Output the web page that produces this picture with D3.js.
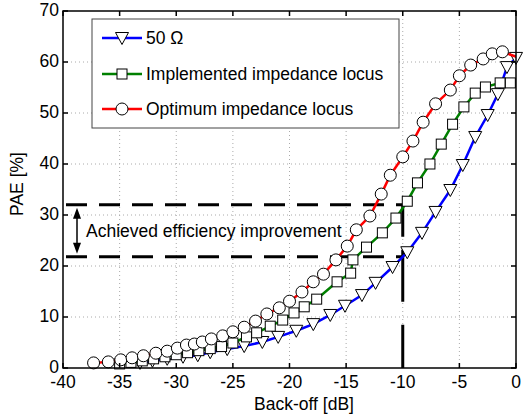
<!DOCTYPE html>
<html>
<head>
<meta charset="utf-8">
<script src="https://cdn.jsdelivr.net/npm/d3@7"></script>
<style>
  body { margin: 0; background: #fff; }
  text { font-family: "Liberation Sans", Arial, sans-serif; fill: #000; }
</style>
</head>
<body>
<div id="chart"></div>
<script>
// back-off [dB] and PAE [%]
var refX  = [-33.2,-32.1,-30.8,-29.4,-28.1,-27.0,-25.5,-24.0,-22.4,-21.0,-19.4,-17.9,-16.4,-15.1,-13.6,-12.4,-10.9,-9.6,-8.3,-7.1,-5.8,-4.7,-3.6,-2.5,-1.6,-0.8,0.0];
var refY  = [1.0,1.4,1.8,2.2,2.5,3.1,3.7,4.3,5.1,6.1,7.3,8.6,10.4,12.2,14.3,16.7,19.8,22.7,26.5,30.6,34.9,39.8,45.3,49.6,53.7,59.0,60.8];

var implX = [-35.0,-34.0,-33.0,-32.0,-31.0,-30.0,-29.0,-28.0,-27.0,-26.0,-25.0,-23.8,-22.9,-21.7,-20.6,-19.6,-18.7,-17.6,-15.8,-14.6,-14.4,-13.2,-11.8,-10.6,-9.6,-8.7,-7.6,-6.6,-5.6,-4.6,-3.6,-2.7,-1.4,-0.5];
var implY = [0.8,1.1,1.4,1.8,2.2,2.6,3.0,3.4,3.8,4.2,4.9,6.1,6.9,8.2,9.4,10.8,12.0,13.5,16.9,18.6,21.2,23.7,26.5,29.4,32.7,36.3,40.0,43.9,47.8,51.2,53.9,55.1,55.9,55.9];

var optX  = [-37.3,-36.0,-34.9,-33.9,-32.9,-31.8,-30.8,-29.9,-29.1,-28.4,-27.7,-26.9,-25.9,-25.0,-24.0,-23.0,-22.0,-20.9,-20.0,-18.9,-17.9,-17.0,-15.9,-14.9,-14.1,-12.9,-11.9,-11.1,-10.0,-9.1,-8.2,-7.1,-5.8,-5.0,-4.0,-2.9,-2.1,-1.2,0.3];
var optY  = [1.0,1.2,1.6,2.0,2.4,2.9,3.3,3.9,4.5,4.7,5.1,5.7,6.3,7.1,8.0,9.2,10.6,11.8,13.1,14.9,16.9,18.4,21.2,23.9,27.1,29.8,34.1,37.8,41.4,44.5,48.2,51.8,54.5,57.3,59.4,60.6,61.6,62.0,60.8];

var xTicks = [-40,-35,-30,-25,-20,-15,-10,-5,0];
var yTicks = [0,10,20,30,40,50,60,70];
var legendNames = ["50 \u03A9", "Implemented impedance locus", "Optimum impedance locus"];

// annotation: efficiency at -10 dB
var markBackoff = -10;
var paeLow = 21.8, paeHigh = 32.0;
var noteText = "Achieved efficiency improvement";

var width = 523, height = 417;
var m = {left: 63, top: 11, right: 7, bottom: 49};
var fs = "17.5px";

var svg = d3.select("#chart").append("svg")
    .attr("width", width)
    .attr("height", height);

var x = d3.scaleLinear().domain([-40, 0]).range([m.left, width - m.right]);
var y = d3.scaleLinear().domain([0, 70]).range([height - m.bottom, m.top]);

svg.append("clipPath").attr("id", "clip")
  .append("rect")
    .attr("x", x(-40)).attr("y", y(70))
    .attr("width", x(0) - x(-40)).attr("height", y(0) - y(70));

// dotted grid
var grid = svg.append("g").attr("stroke", "#aaa").attr("stroke-width", 1).attr("stroke-dasharray", "1,3");
xTicks.slice(1, -1).forEach(function(t) {
    grid.append("line").attr("x1", x(t)).attr("x2", x(t)).attr("y1", y(0)).attr("y2", y(70));
});
yTicks.slice(1, -1).forEach(function(t) {
    grid.append("line").attr("x1", x(-40)).attr("x2", x(0)).attr("y1", y(t)).attr("y2", y(t));
});

// dashed markers at -10 dB
var ann = svg.append("g").attr("stroke", "#000").attr("stroke-width", 3).attr("fill", "none");
[paeHigh, paeLow].forEach(function(v) {
    ann.append("line").attr("x1", x(-40)).attr("x2", x(markBackoff))
        .attr("y1", y(v)).attr("y2", y(v))
        .attr("stroke-dasharray", "21,12").attr("stroke-dashoffset", -3);
});
ann.append("line").attr("x1", x(markBackoff)).attr("x2", x(markBackoff))
    .attr("y1", y(paeHigh)).attr("y2", y(0))
    .attr("stroke-dasharray", "32,13,52,23,60");

// double arrow
var ax = 77;
svg.append("line").attr("x1", ax).attr("x2", ax)
    .attr("y1", y(paeHigh) + 6).attr("y2", y(paeLow) - 6)
    .attr("stroke", "#000").attr("stroke-width", 1.5);
svg.append("path").attr("fill", "#000")
    .attr("d", "M" + ax + "," + (y(paeHigh) + 3) + "l-4,11h8z");
svg.append("path").attr("fill", "#000")
    .attr("d", "M" + ax + "," + (y(paeLow) - 3) + "l-4,-11h8z");
svg.append("text").attr("x", 86).attr("y", 237)
    .style("font-size", fs).text(noteText);

// marker shapes
function drawMarker(g, kind, cx, cy) {
    if (kind == "tri") {
        g.append("path").attr("d", "M" + (cx - 6.5) + "," + (cy - 5.5) + "h13l-6.5,12z");
    } else if (kind == "sq") {
        g.append("rect").attr("x", cx - 5).attr("y", cy - 5).attr("width", 10).attr("height", 10);
    } else {
        g.append("circle").attr("cx", cx).attr("cy", cy).attr("r", 6);
    }
}

var series = [
    {xs: refX, ys: refY, color: "#0000ff", kind: "tri"},
    {xs: implX, ys: implY, color: "#008000", kind: "sq"},
    {xs: optX, ys: optY, color: "#ff0000", kind: "circ"}
];

var line = d3.line().x(function(d) { return x(d[0]); }).y(function(d) { return y(d[1]); });

series.forEach(function(s) {
    var pts = d3.zip(s.xs, s.ys);
    var g = svg.append("g");
    g.append("path").datum(pts)
        .attr("clip-path", "url(#clip)")
        .attr("d", line)
        .attr("fill", "none")
        .attr("stroke", s.color)
        .attr("stroke-width", 2.5);
    var mg = g.append("g").attr("fill", "#fff").attr("stroke", "#000").attr("stroke-width", 1);
    pts.forEach(function(p) {
        if (p[0] <= 0) drawMarker(mg, s.kind, x(p[0]), y(p[1]));   // matlab drops markers outside the axes
    });
});

// axes box with inward ticks
var frame = svg.append("g").attr("stroke", "#000").attr("stroke-width", 1.5);
frame.append("rect").attr("x", x(-40)).attr("y", y(70))
    .attr("width", x(0) - x(-40)).attr("height", y(0) - y(70)).attr("fill", "none");
xTicks.forEach(function(t) {
    frame.append("line").attr("x1", x(t)).attr("x2", x(t)).attr("y1", y(0)).attr("y2", y(0) - 5);
    frame.append("line").attr("x1", x(t)).attr("x2", x(t)).attr("y1", y(70)).attr("y2", y(70) + 5);
});
yTicks.forEach(function(t) {
    frame.append("line").attr("x1", x(-40)).attr("x2", x(-40) + 5).attr("y1", y(t)).attr("y2", y(t));
    frame.append("line").attr("x1", x(0)).attr("x2", x(0) - 5).attr("y1", y(t)).attr("y2", y(t));
});

svg.append("g").selectAll("text").data(xTicks).enter().append("text")
    .attr("x", function(d) { return x(d); })
    .attr("y", 388)
    .attr("text-anchor", "middle")
    .style("font-size", fs)
    .text(function(d) { return d; });

svg.append("g").selectAll("text").data(yTicks).enter().append("text")
    .attr("x", 59)
    .attr("y", function(d) { return y(d) + 5; })
    .attr("text-anchor", "end")
    .style("font-size", fs)
    .text(function(d) { return d; });

svg.append("text").attr("x", 304).attr("y", 410)
    .attr("text-anchor", "middle").style("font-size", fs)
    .text("Back-off [dB]");

svg.append("text")
    .attr("transform", "translate(23," + 184 + ") rotate(-90)")
    .attr("text-anchor", "middle").style("font-size", fs)
    .text("PAE [%]");

// legend
var lg = svg.append("g");
lg.append("rect").attr("x", 92).attr("y", 19).attr("width", 307).attr("height", 109)
    .attr("fill", "#fff").attr("stroke", "#444").attr("stroke-width", 1);
var rowY = [38, 74, 109];
series.forEach(function(s, i) {
    lg.append("line").attr("x1", 102).attr("x2", 142).attr("y1", rowY[i]).attr("y2", rowY[i])
        .attr("stroke", s.color).attr("stroke-width", 2.5);
    var mg = lg.append("g").attr("fill", "#fff").attr("stroke", "#000").attr("stroke-width", 1);
    drawMarker(mg, s.kind, 122, rowY[i]);
    lg.append("text").attr("x", 146).attr("y", rowY[i] + 6)
        .style("font-size", fs).text(legendNames[i]);
});
</script>
</body>
</html>
